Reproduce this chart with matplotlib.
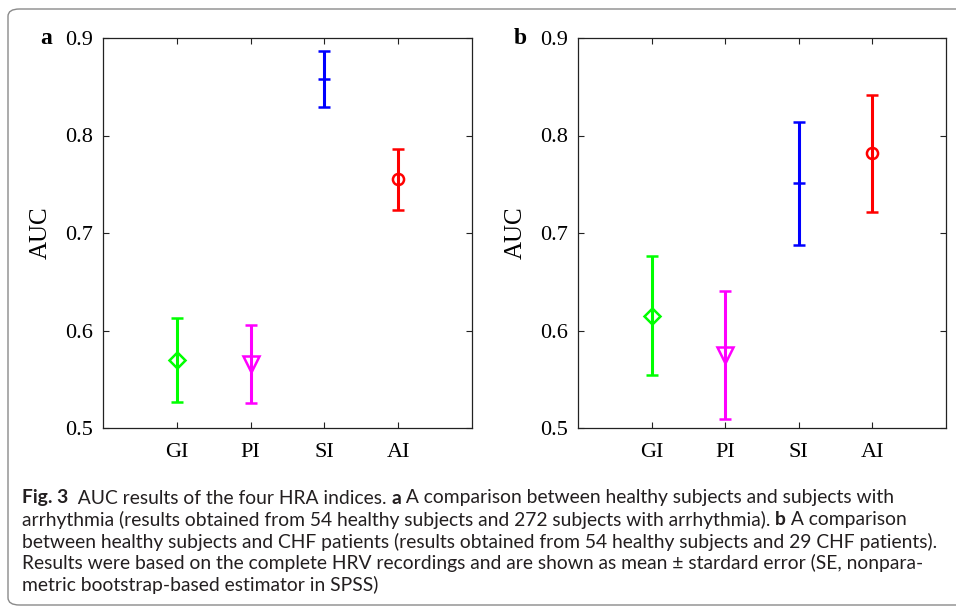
import matplotlib
matplotlib.use("Agg")
import matplotlib.pyplot as plt
from matplotlib.patches import FancyBboxPatch

# AUC (mean ± SE) of the four HRA indices
indices = ["GI", "PI", "SI", "AI"]
auc_arrhythmia = [0.570, 0.566, 0.858, 0.755]
se_arrhythmia = [0.043, 0.040, 0.029, 0.031]
auc_chf = [0.615, 0.575, 0.751, 0.782]
se_chf = [0.061, 0.066, 0.063, 0.060]

colors = ["#00ff00", "#ff00ff", "#0000ff", "#ff0000"]
markers = ["D", "v", "+", "o"]
marker_sizes = [8, 11, 8, 8]

caption_lines = [
    [("Fig. 3", "bold"), ("  AUC results of the four HRA indices. ", "normal"),
     ("a", "bold"), (" A comparison between healthy subjects and subjects with", "normal")],
    [("arrhythmia (results obtained from 54 healthy subjects and 272 subjects with arrhythmia). ", "normal"),
     ("b", "bold"), (" A comparison", "normal")],
    [("between healthy subjects and CHF patients (results obtained from 54 healthy subjects and 29 CHF patients).", "normal")],
    [("Results were based on the complete HRV recordings and are shown as mean \u00b1 stardard error (SE, nonpara-", "normal")],
    [("metric bootstrap-based estimator in SPSS)", "normal")],
]

W, H = 956, 607
serif = ["Liberation Serif", "DejaVu Serif"]


def draw_panel(ax, values, errors, letter):
    for i, (v, e) in enumerate(zip(values, errors)):
        ax.errorbar(i + 1, v, yerr=e, fmt=markers[i], color=colors[i],
                    mfc="none", mec=colors[i], ms=marker_sizes[i], mew=1.8,
                    elinewidth=2.2, capsize=4, capthick=2.2, zorder=3)

    ax.set_xlim(0, 5)
    ax.set_ylim(0.5, 0.9)
    ax.set_xticks(range(1, len(indices) + 1))
    ax.set_xticklabels(indices)
    ax.set_yticks([0.5, 0.6, 0.7, 0.8, 0.9])
    ax.set_yticklabels(["0.5", "0.6", "0.7", "0.8", "0.9"])
    ax.tick_params(direction="in", top=True, right=True, length=4,
                   width=0.8, color="#222222", labelsize=16)
    ax.tick_params(axis="x", pad=11)
    ax.tick_params(axis="y", pad=7)
    for lbl in ax.get_xticklabels() + ax.get_yticklabels():
        lbl.set_fontfamily(serif)
    for sp in ax.spines.values():
        sp.set_linewidth(0.9)
        sp.set_color("#222222")

    ax.set_ylabel("AUC", fontsize=18, family=serif)
    ax.yaxis.set_label_coords(-0.138, 0.5)
    ax.text(-0.138, 1.0, letter, transform=ax.transAxes, fontsize=17,
            fontweight="bold", family=serif, ha="right", va="center")


def draw_runs(fig, renderer, x_px, y_px, runs, size):
    # lay out text runs of mixed weight one after another, in pixels
    x = x_px
    for text, weight in runs:
        t = fig.text(x / W, 1 - y_px / H, text, fontsize=size,
                     fontweight=weight, family=["Lato", "DejaVu Sans"],
                     color="#231f20", ha="left", va="center")
        bb = t.get_window_extent(renderer=renderer)
        x += bb.width


fig = plt.figure(figsize=(W / 100, H / 100), dpi=100)

frame = FancyBboxPatch((8 / W, 1 - 605 / H), 960 / W, 596 / H,
                       boxstyle="round,pad=0,rounding_size=0.012",
                       transform=fig.transFigure, fill=False,
                       edgecolor="#8a8a8a", linewidth=1.0)
fig.patches.append(frame)

ax_a = fig.add_axes([103 / W, 1 - 428 / H, 369 / W, 390 / H])
ax_b = fig.add_axes([578 / W, 1 - 428 / H, 368 / W, 390 / H])

draw_panel(ax_a, auc_arrhythmia, se_arrhythmia, "a")
draw_panel(ax_b, auc_chf, se_chf, "b")

renderer = fig.canvas.get_renderer()
for k, runs in enumerate(caption_lines):
    draw_runs(fig, renderer, 22, 498 + k * 21.8, runs, 13.9)

fig.savefig("out.png", dpi=100)
